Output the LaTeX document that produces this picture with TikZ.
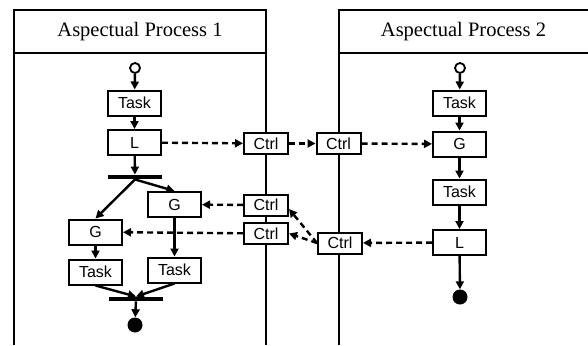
\documentclass[tikz,border=0pt]{standalone}
\usepackage{fontspec}
\setmainfont{Liberation Serif}
\setsansfont{Liberation Sans}
\usetikzlibrary{arrows.meta}

\begin{document}
\begin{tikzpicture}[x=1pt,y=-1pt,
  box/.style={draw, line width=2pt, fill=white, inner sep=0pt, minimum width=53pt, minimum height=25pt, font=\sffamily\fontsize{16}{18}\selectfont},
  ctrl/.style={box, minimum width=44pt, minimum height=21pt},
  bar/.style={fill, inner sep=0pt, minimum width=54pt, minimum height=4.5pt},
  start/.style={circle, draw, line width=1.8pt, fill=white, inner sep=0pt, minimum size=10pt},
  stop/.style={circle, fill, inner sep=0pt, minimum size=15pt},
  flow/.style={line width=2.4pt, -{Triangle[length=8pt,width=8pt]}},
  msg/.style={flow, dash pattern=on 6pt off 4pt},
  lane/.style={line width=2pt},
  head/.style={font=\fontsize{20.5}{24}\selectfont}]
\useasboundingbox (0,0) rectangle (588,345);
% swimlanes
\draw[lane] (14,345) -- (14,10) -- (266,10) -- (266,345);
\draw[lane] (14,53) -- (266,53);
\draw[lane] (339,345) -- (339,10) -- (588,10);
\draw[lane] (339,53) -- (588,53);
\node[head] (h1) at (140,32){Aspectual Process 1};
\node[head] (h2) at (463.5,32){Aspectual Process 2};
% process 1
\node[start] (s1) at (135,68){};
\node[box] (t1) at (134.5,103){Task};
\node[box] (l1) at (134.5,142.5){L};
\node[bar] (fork) at (135,177){};
\node[box] (g1r) at (174.5,204.5){G};
\node[box] (g1l) at (95.5,232){G};
\node[box] (t1l) at (95.5,272){Task};
\node[box] (t1r) at (174.5,270){Task};
\node[bar] (join) at (136,299){};
\node[stop] (e1) at (135,325){};
\draw[flow] (s1) -- (t1);
\draw[flow] (t1) -- (l1);
\draw[flow] (l1) -- (fork);
\draw[flow] (fork.south) -- (g1l.north);
\draw[flow] (fork.south) -- (g1r.north);
\draw[flow] (g1l) -- (t1l);
\draw[flow] (g1r) -- (t1r);
\draw[flow] (t1l.south) -- (join.north);
\draw[flow] (t1r.south) -- (join.north);
\draw[flow] (join) -- (e1);
% process 2
\node[start] (s2) at (460,68){};
\node[box] (t2) at (459.5,103){Task};
\node[box] (g2) at (459.5,144){G};
\node[box] (t3) at (459.5,192){Task};
\node[box] (l2) at (459.5,242.5){L};
\node[stop] (e2) at (460,297){};
\draw[flow] (s2) -- (t2);
\draw[flow] (t2) -- (g2);
\draw[flow] (g2) -- (t3);
\draw[flow] (t3) -- (l2);
\draw[flow] (l2) -- (e2);
% controllers on the lane borders
\node[ctrl] (c1) at (266,143.5){Ctrl};
\node[ctrl] (c2) at (338.5,143.5){Ctrl};
\node[ctrl] (c3) at (266,205){Ctrl};
\node[ctrl] (c4) at (266,233.5){Ctrl};
\node[ctrl] (c5) at (340,243){Ctrl};
\draw[msg] (l1) -- (c1);
\draw[msg] (c1) -- (c2);
\draw[msg] (c2) -- (g2);
\draw[msg] (l2) -- (c5);
\draw[msg] (c5.west) -- ([yshift=-4pt]c3.east);
\draw[msg] (c5.west) -- (c4.east);
\draw[msg] (c3) -- (g1r);
\draw[msg] (c4) -- (g1l);
\end{tikzpicture}
\end{document}
